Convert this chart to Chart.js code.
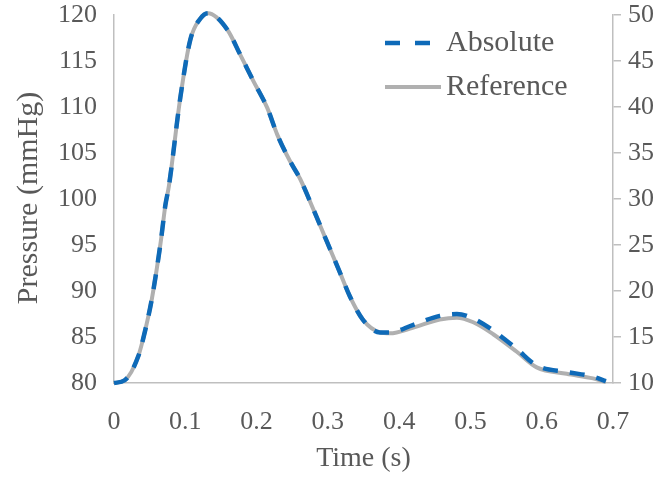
<!DOCTYPE html>
<html>
<head>
<meta charset="utf-8">
<script src="https://cdn.jsdelivr.net/npm/chart.js@4.4.0/dist/chart.umd.min.js"></script>
<style>
  html, body { margin: 0; padding: 0; background: #fff; }
  #wrap { width: 672px; height: 477px; }
</style>
</head>
<body>
<div id="wrap"><canvas id="PressureChart"></canvas></div>
<script>
// pressure waveform, absolute vs reference

const times = [0, 0.015, 0.034, 0.044, 0.053, 0.060, 0.066, 0.072, 0.077, 0.093, 0.107, 0.121, 0.132,
    0.159, 0.177, 0.195, 0.215, 0.229, 0.247, 0.261, 0.279, 0.299, 0.317, 0.331, 0.349, 0.373,
    0.387, 0.419, 0.457, 0.481, 0.504, 0.532, 0.565, 0.593, 0.635, 0.672, 0.690];

const referenceP = [80, 80.3, 82.9, 85.8, 89.1, 92.4, 95.6, 99.3, 101.4, 111, 117.3, 119.6, 120.2,
    118.4, 115.7, 112.9, 109.9, 107, 104.1, 102.2, 99, 95.3, 92, 89.4, 86.9, 85.5,
    85.4, 86.0, 86.9, 87.1, 86.6, 85.3, 83.4, 81.7, 81.0, 80.5, 80.1];

const absoluteP = [80, 80.3, 82.9, 85.8, 89.1, 92.4, 95.6, 99.3, 101.4, 111, 117.3, 119.6, 120.2,
    118.4, 115.7, 112.9, 109.9, 107, 104.1, 102.2, 99, 95.3, 92, 89.4, 86.9, 85.5,
    85.5, 86.3, 87.3, 87.5, 87.0, 85.7, 83.7, 81.9, 81.2, 80.7, 80.2];

const xTicks = [0, 0.1, 0.2, 0.3, 0.4, 0.5, 0.6, 0.7];
const pressureTicks = [80, 85, 90, 95, 100, 105, 110, 115, 120];
const rightTicks = [10, 15, 20, 25, 30, 35, 40, 45, 50];

const txt = '#595959';
const axisGray = '#bfbfbf';
const serif = 'Liberation Serif, Times New Roman, serif';

const toPoints = (vals) => times.map((t, i) => ({ x: t, y: vals[i] }));

// fixed widths so the plot area sits where the original one does
const fitSide = (w) => (s) => { s.width = w; s.paddingTop = 15; s.paddingBottom = 0; };

// y title + legend drawn by hand (Excel style placement)
const overlay = {
    id: 'overlay',
    afterDraw(chart) {
        const ctx = chart.ctx;
        ctx.save();
        ctx.fillStyle = txt;
        ctx.font = '30px ' + serif;
        ctx.textAlign = 'center';
        ctx.textBaseline = 'middle';
        ctx.translate(29, 198);
        ctx.rotate(-Math.PI / 2);
        ctx.fillText('Pressure (mmHg)', 0, 0);
        ctx.restore();

        const rows = [43, 87];
        chart.data.datasets.forEach((ds, i) => {
            const y = rows[i];
            ctx.save();
            ctx.strokeStyle = ds.borderColor;
            ctx.lineWidth = ds.borderWidth;
            ctx.setLineDash(ds.borderDash ? [15, 15] : []);
            ctx.beginPath();
            ctx.moveTo(385, y);
            ctx.lineTo(ds.borderDash ? 430 : 441, y);
            ctx.stroke();
            ctx.setLineDash([]);
            ctx.fillStyle = txt;
            ctx.font = '30px ' + serif;
            ctx.textAlign = 'left';
            ctx.textBaseline = 'middle';
            ctx.fillText(ds.label, 446, y);
            ctx.restore();
        });
    }
};

const ctx = document.getElementById('PressureChart');
new Chart(ctx, {
    type: 'line',
    data: {
        datasets: [{
            label: 'Absolute',
            data: toPoints(absoluteP),
            borderColor: '#0e6ab8',
            borderWidth: 4.5,
            borderDash: [15, 12],
            pointRadius: 0,
            cubicInterpolationMode: 'monotone',
            clip: false,
            fill: false
        }, {
            label: 'Reference',
            data: toPoints(referenceP),
            borderColor: '#b0b0b0',
            borderWidth: 4,
            pointRadius: 0,
            cubicInterpolationMode: 'monotone',
            clip: false,
            fill: false
        }]
    },
    options: {
        responsive: true,
        maintainAspectRatio: false,
        animation: false,
        layout: { padding: 0 },
        plugins: {
            legend: { display: false },
            tooltip: { enabled: false }
        },
        scales: {
            x: {
                type: 'linear',
                min: 0,
                max: 0.7,
                afterFit: (s) => { s.height = 94; },
                afterBuildTicks: (s) => { s.ticks = xTicks.map(v => ({ value: v })); },
                ticks: {
                    color: txt,
                    font: { family: serif, size: 26 },
                    padding: 24,
                    maxRotation: 0,
                    callback: (v) => String(Math.round(v * 10) / 10)
                },
                grid: { display: false, drawTicks: false },
                border: { display: true, color: axisGray, width: 1.5 },
                title: {
                    display: true,
                    text: 'Time (s)',
                    color: txt,
                    font: { family: serif, size: 28 },
                    padding: { top: 0, bottom: 2 }
                }
            },
            y: {
                position: 'left',
                min: 80,
                max: 120,
                afterFit: fitSide(114),
                afterBuildTicks: (s) => { s.ticks = pressureTicks.map(v => ({ value: v })); },
                ticks: {
                    color: txt,
                    font: { family: serif, size: 26 },
                    padding: 17
                },
                grid: { display: false, drawTicks: false },
                border: { display: true, color: axisGray, width: 1.5 }
            },
            y2: {
                position: 'right',
                min: 10,
                max: 50,
                afterFit: fitSide(59),
                afterBuildTicks: (s) => { s.ticks = rightTicks.map(v => ({ value: v })); },
                ticks: {
                    color: txt,
                    font: { family: serif, size: 26 },
                    padding: 7
                },
                grid: { drawOnChartArea: false, drawTicks: true, tickLength: 8, color: axisGray, lineWidth: 1.5 },
                border: { display: true, color: axisGray, width: 1.5 }
            }
        }
    },
    plugins: [overlay]
});
</script>
</body>
</html>
